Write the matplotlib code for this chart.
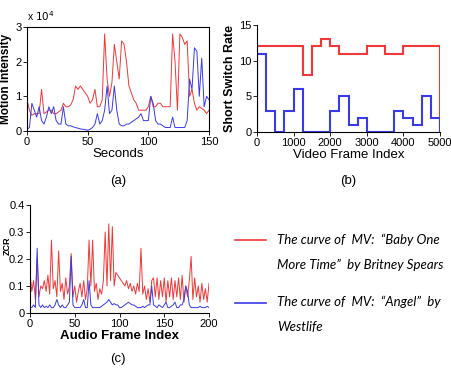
import numpy as np
import matplotlib
matplotlib.use('Agg')
import matplotlib.pyplot as plt
from matplotlib.lines import Line2D

plt.rcParams['font.family'] = ['Liberation Sans', 'DejaVu Sans']

# (a) motion intensity, values in units of 1e4, every 2 seconds
sec = np.arange(0, 151, 2)
motion_red = [0.9, 0.6, 0.45, 0.5, 0.5, 0.5, 1.2, 0.5, 0.55, 0.6, 0.6, 0.5, 0.5, 0.55, 0.6, 0.8,
              0.7, 0.7, 0.75, 0.9, 1.3, 1.2, 1.3, 1.2, 1.1, 1.0, 0.8, 0.9, 1.2, 0.7, 0.7, 0.9,
              2.8, 1.5, 1.0, 1.4, 2.5, 2.0, 1.5, 2.6, 2.5, 2.0, 1.3, 1.1, 0.9, 0.8, 0.6, 0.6,
              0.6, 0.6, 0.7, 1.0, 0.7, 0.7, 0.8, 0.8, 0.7, 0.7, 0.7, 0.7, 2.8, 2.0, 0.6, 2.8,
              2.7, 2.5, 2.6, 1.0, 1.2, 0.8, 0.6, 0.7, 0.65, 0.6, 0.5, 0.6]
motion_blue = [0.05, 0.1, 0.8, 0.6, 0.4, 0.7, 0.3, 0.2, 0.4, 0.7, 0.5, 0.7, 0.3, 0.2, 0.2, 0.7,
               0.2, 0.15, 0.15, 0.12, 0.1, 0.08, 0.06, 0.05, 0.04, 0.02, 0.05, 0.1, 0.2, 0.5,
               0.2, 0.3, 0.6, 1.3, 0.5, 0.6, 1.3, 0.6, 0.2, 0.15, 0.15, 0.2, 0.2, 0.25, 0.3,
               0.35, 0.4, 0.5, 0.3, 0.3, 0.3, 1.0, 0.8, 0.3, 0.2, 0.2, 0.15, 0.1, 0.1, 0.1, 0.4,
               0.1, 0.1, 0.1, 0.1, 0.1, 0.3, 1.5, 1.2, 2.4, 2.3, 1.0, 2.1, 0.7, 1.0, 0.9]

# (b) short switch rate, step every 250 frames
frame_edges = np.arange(0, 5001, 250)
switch_red = [12, 12, 12, 12, 12, 8, 12, 13, 12, 11, 11, 11, 12, 12, 11, 11, 12, 12, 12, 12]
switch_blue = [11, 3, 0, 3, 6, 0, 0, 0, 3, 5, 1, 2, 0, 0, 0, 3, 2, 1, 5, 2]

# (c) zero crossing rate, every 2 audio frames
audio_idx = np.arange(0, 201, 2)
zcr_red = [0.15, 0.08, 0.12, 0.05, 0.2, 0.06, 0.1, 0.09, 0.12, 0.08, 0.14, 0.07, 0.27, 0.09,
           0.12, 0.06, 0.23, 0.08, 0.11, 0.05, 0.13, 0.07, 0.1, 0.22, 0.06, 0.1, 0.04, 0.08,
           0.11, 0.06, 0.12, 0.05, 0.09, 0.27, 0.1, 0.27, 0.08, 0.11, 0.05, 0.09, 0.07, 0.12,
           0.3, 0.1, 0.33, 0.12, 0.32, 0.1, 0.15, 0.14, 0.13, 0.12, 0.11, 0.1, 0.12, 0.09,
           0.11, 0.08, 0.1, 0.07, 0.11, 0.08, 0.24, 0.07, 0.1, 0.05, 0.09, 0.04, 0.12, 0.13,
           0.06, 0.13, 0.05, 0.12, 0.06, 0.13, 0.04, 0.12, 0.06, 0.13, 0.05, 0.12, 0.06, 0.13,
           0.05, 0.14, 0.04, 0.1, 0.06, 0.12, 0.21, 0.05, 0.13, 0.06, 0.1, 0.04, 0.11, 0.05,
           0.09, 0.04, 0.11]
zcr_blue = [0.02, 0.02, 0.03, 0.02, 0.24, 0.03, 0.02, 0.03, 0.02, 0.025, 0.02, 0.03, 0.02,
            0.02, 0.03, 0.05, 0.03, 0.02, 0.03, 0.02, 0.02, 0.03, 0.04, 0.21, 0.03, 0.02, 0.02,
            0.02, 0.02, 0.03, 0.05, 0.02, 0.02, 0.12, 0.03, 0.02, 0.02, 0.02, 0.02, 0.02, 0.025,
            0.03, 0.035, 0.04, 0.05, 0.04, 0.03, 0.035, 0.03, 0.03, 0.02, 0.02, 0.025, 0.03,
            0.035, 0.04, 0.035, 0.03, 0.03, 0.025, 0.02, 0.02, 0.02, 0.025, 0.02, 0.025, 0.03,
            0.03, 0.1, 0.03, 0.025, 0.02, 0.03, 0.025, 0.02, 0.03, 0.04, 0.02, 0.02, 0.025,
            0.03, 0.04, 0.02, 0.02, 0.03, 0.03, 0.05, 0.1, 0.08, 0.03, 0.02, 0.02, 0.02, 0.02,
            0.02, 0.025, 0.02, 0.02, 0.02, 0.025, 0.02]

legend_lines = ['The curve of  MV:  \u201cBaby One', 'More Time\u201d  by Britney Spears',
                'The curve of  MV:  \u201cAngel\u201d  by', 'Westlife']

RED = '#f03838'
BLUE = '#3a3ae8'
W, H = 451, 369

fig = plt.figure(figsize=(4.51, 3.69), dpi=100)


def px_axes(left, top, right, bottom):
    return fig.add_axes([left / W, 1 - bottom / H, (right - left) / W, (bottom - top) / H])


def style(ax):
    ax.tick_params(labelsize=8, length=3, width=0.6, pad=1)
    for s in ax.spines.values():
        s.set_linewidth(0.8)


# (a)
ax = px_axes(27, 27, 209, 131)
ax.plot(sec, motion_red, color=RED, lw=0.7)
ax.plot(sec, motion_blue, color=BLUE, lw=0.7)
ax.set_xlim(0, 150)
ax.set_ylim(0, 3)
ax.set_xticks([0, 50, 100, 150])
ax.set_yticks([0, 1, 2, 3])
ax.set_xlabel('Seconds', fontsize=9.5, labelpad=1)
ax.set_ylabel('Motion Intensity', fontsize=8.5, fontweight='bold', labelpad=2)
ax.text(0.0, 1.06, r'x $10^4$', transform=ax.transAxes, fontsize=7.5)
style(ax)
fig.text(118 / W, 1 - 181 / H, '(a)', ha='center', va='center', fontsize=9.5)

# (b)
ax = px_axes(257, 25, 440, 132)
ax.stairs(switch_red, frame_edges, color=RED, lw=1.5)
ax.stairs(switch_blue, frame_edges, color=BLUE, lw=1.5)
ax.set_xlim(0, 5000)
ax.set_ylim(0, 15)
ax.set_xticks([0, 1000, 2000, 3000, 4000, 5000])
ax.set_yticks([0, 5, 10, 15])
ax.set_xlabel('Video Frame Index', fontsize=9.5, labelpad=1)
ax.set_ylabel('Short Switch Rate', fontsize=9, fontweight='bold', labelpad=2)
ax.spines['top'].set_visible(False)
ax.spines['right'].set_visible(False)
style(ax)
fig.text(348 / W, 1 - 181 / H, '(b)', ha='center', va='center', fontsize=9.5)

# (c)
ax = px_axes(30, 205, 209, 313)
ax.plot(audio_idx, zcr_red, color=RED, lw=0.7)
ax.plot(audio_idx, zcr_blue, color=BLUE, lw=0.7)
ax.set_xlim(0, 200)
ax.set_ylim(0, 0.4)
ax.set_xticks([0, 50, 100, 150, 200])
ax.set_yticks([0, 0.1, 0.2, 0.3, 0.4])
ax.set_yticklabels(['0', '0.1', '0.2', '0.3', '0.4'])
ax.set_xlabel('Audio Frame Index', fontsize=9.5, fontweight='bold', labelpad=1)
ax.set_ylabel('ZCR', fontsize=6.5, fontweight='bold')
ax.yaxis.set_label_coords(-0.1, 0.625)
ax.spines['top'].set_visible(False)
ax.spines['right'].set_visible(False)
style(ax)
fig.text(118 / W, 1 - 359 / H, '(c)', ha='center', va='center', fontsize=9.5)

# legend
fig.add_artist(Line2D([235 / W, 266 / W], [1 - 240 / H] * 2, color=RED, lw=1.2))
fig.add_artist(Line2D([235 / W, 266 / W], [1 - 303 / H] * 2, color=BLUE, lw=1.2))
for txt, y in zip(legend_lines, [240, 265, 302, 327]):
    fig.text(277 / W, 1 - y / H, txt, ha='left', va='center', fontsize=9.5,
             family=['Lato', 'DejaVu Sans'], style='italic')

fig.savefig('out.png', dpi=100)
